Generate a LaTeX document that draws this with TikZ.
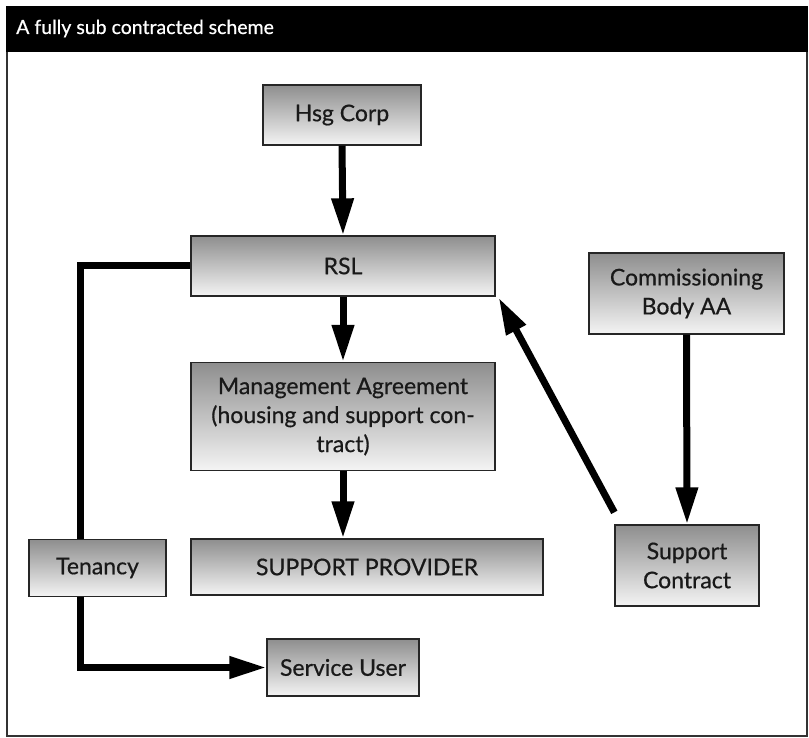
\documentclass[tikz,border=0pt]{standalone}
\usepackage{fontspec}
\setmainfont{Lato}
\newfontfamily\boxfont{Lato}[FakeBold=0.6]
\usetikzlibrary{arrows.meta,calc}
\definecolor{boxtop}{HTML}{8E8E8E}
\definecolor{boxbot}{HTML}{F4F4F4}
\begin{document}
\begin{tikzpicture}[x=1pt,y=-1pt,
  box/.style={draw=black!85,line width=1.3pt,top color=boxtop,bottom color=boxbot,
    inner sep=0pt,align=center,font=\boxfont\fontsize{23}{29}\selectfont,text=black!90},
  conn/.style={line width=7pt,draw=black},
  arr/.style={conn,-{Triangle[length=37pt,width=21pt]}}]
\useasboundingbox (0,0) rectangle (809,738);
% frame and header
\draw[draw=black!80,line width=1.5pt,fill=white] (7,7) rectangle (807,736);
\fill[black] (6,6) rectangle (808,52);
\node[anchor=base west,text=white,font=\boxfont\fontsize{19.5}{23}\selectfont,inner sep=0pt] (title) at (16,34) {A fully sub contracted scheme};
% nodes
\node[box,minimum width=158pt,minimum height=60pt] (hsg) at (342,115) {Hsg Corp};
\node[box,minimum width=304pt,minimum height=60pt] (rsl) at (343,266) {RSL};
\node[box,minimum width=304pt,minimum height=108pt] (mgmt) at (343,416.5) {Management Agreement\\(housing and support con-\\tract)};
\node[box,minimum width=352pt,minimum height=56pt] (sp) at (367,567) {SUPPORT PROVIDER};
\node[box,minimum width=137pt,minimum height=57pt] (ten) at (97.5,568) {Tenancy};
\node[box,minimum width=152pt,minimum height=57pt] (su) at (343,667.5) {Service User};
\node[box,minimum width=195pt,minimum height=81pt] (cb) at (686.5,293.5) {Commissioning\\Body AA};
\node[box,minimum width=144pt,minimum height=81pt] (sc) at (687,565.5) {Support\\Contract};
% connectors
\draw[arr] (hsg.south) -- (rsl.north);
\draw[arr] (rsl.south) -- (mgmt.north);
\draw[arr] (mgmt.south) -- (mgmt.south |- sp.north);
\draw[arr] (cb.south) -- (sc.north);
\draw[arr] ([yshift=12pt]sc.north west) -- ([xshift=3pt,yshift=-1pt]rsl.south east);
\coordinate (tl) at (80,266);
\coordinate (tb) at (80,667.5);
\draw[conn] (rsl.west) -- (tl) -- (tl |- ten.north);
\draw[arr] (tl |- ten.south) -- (tb) -- (su.west);
\end{tikzpicture}
\end{document}
